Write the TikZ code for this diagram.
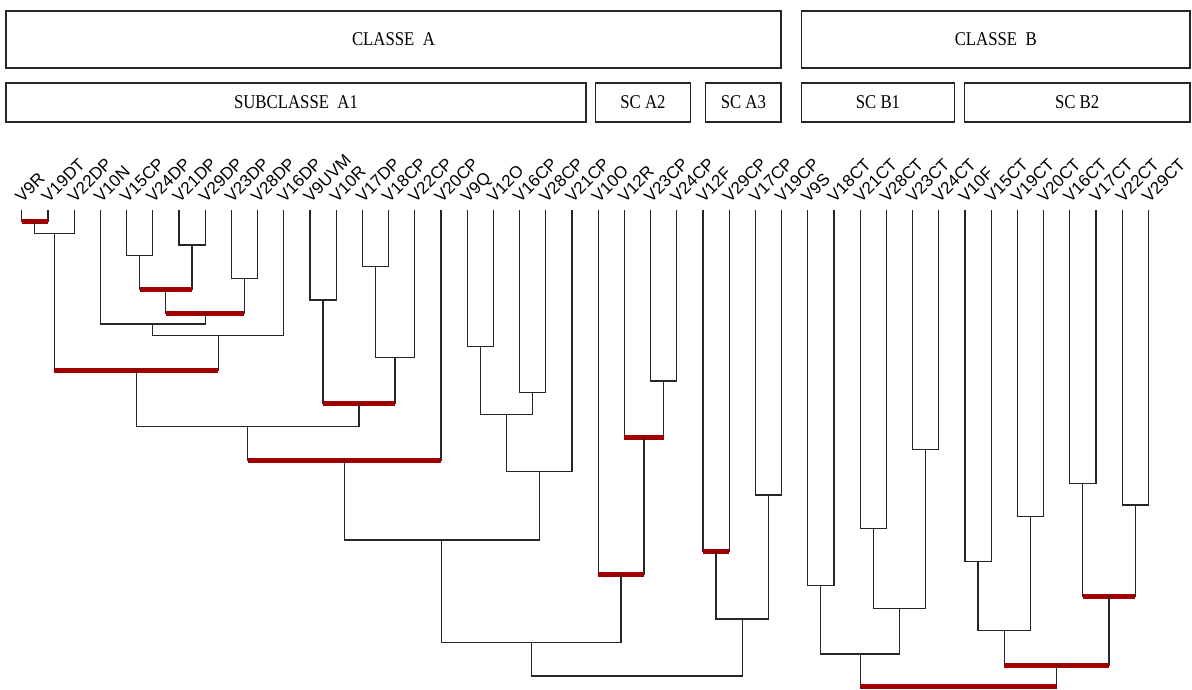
\documentclass[tikz,border=0pt]{standalone}
\usepackage{fontspec}
\usetikzlibrary{calc}
\newfontfamily\labfont{Liberation Sans}
\newfontfamily\boxfont[FakeStretch=0.86]{Liberation Serif}
\definecolor{barred}{RGB}{160,0,0}
\tikzset{
  stem/.style={draw=black!85, line width=1.2pt, line cap=rect},
  redbar/.style={draw=barred, line width=5pt, line cap=butt},
  blackbar/.style={draw=black!85, line width=1.2pt, line cap=rect},
  clbox/.style={draw=black!85, line width=1.3pt, inner sep=0pt, font=\boxfont\fontsize{19.5}{22}\selectfont},
  leaflab/.style={rotate=45, anchor=base west, inner sep=0pt, font=\labfont\fontsize{17}{20}\selectfont}
}
\newcommand\dgjoin[5]{%
  \coordinate (tmp) at ($(#2)!0.5!(#3)$);
  \coordinate (#1) at (tmp |- 0,#4);
  \draw[stem] (#2) -- (#2 |- #1);
  \draw[stem] (#3) -- (#3 |- #1);
  \draw[#5] (#2 |- #1) -- (#3 |- #1);
}
\begin{document}
\begin{tikzpicture}[x=1pt, y=-1pt]
\useasboundingbox (0,0) rectangle (1192,689);
% class boxes
\node[clbox, minimum width=775pt, minimum height=57pt] (classA) at (393.5,39.5) {CLASSE\ \ A};
\node[clbox, minimum width=388.5pt, minimum height=57pt] (classB) at (995.75,39.5) {CLASSE\ \ B};
\node[clbox, minimum width=580pt, minimum height=39pt] (subA1) at (296,102.5) {SUBCLASSE\ \ A1};
\node[clbox, minimum width=95pt, minimum height=39pt] (scA2) at (643,102.5) {SC A2};
\node[clbox, minimum width=75.3pt, minimum height=39pt] (scA3) at (743.35,102.5) {SC A3};
\node[clbox, minimum width=152.9pt, minimum height=39pt] (scB1) at (877.95,102.5) {SC B1};
\node[clbox, minimum width=225.7pt, minimum height=39pt] (scB2) at (1077.15,102.5) {SC B2};
% leaves
\foreach \lab [count=\i] in {V9R,V19DT,V22DP,V10N,V15CP,V24DP,V21DP,V29DP,V23DP,V28DP,V16DP,V9UVM,V10R,V17DP,V18CP,V22CP,V20CP,V9Q,V12O,V16CP,V28CP,V21CP,V10O,V12R,V23CP,V24CP,V12F,V29CP,V17CP,V19CP,V9S,V18CT,V21CT,V28CT,V23CT,V24CT,V10F,V15CT,V19CT,V20CT,V16CT,V17CT,V22CT,V29CT}{
  \coordinate (l\i) at ({21.7+(\i-1)*26.2},211);
  \node[leaflab] (t\i) at ({21.7+(\i-1)*26.2+0.6},203.2) {\lab};
}
% class A
\dgjoin{j12}{l1}{l2}{221}{redbar}
\dgjoin{j123}{j12}{l3}{233.3}{blackbar}
\dgjoin{j56}{l5}{l6}{255.3}{blackbar}
\dgjoin{j78}{l7}{l8}{245}{blackbar}
\dgjoin{j5678}{j56}{j78}{289.3}{redbar}
\dgjoin{j910}{l9}{l10}{278.7}{blackbar}
\dgjoin{j5to10}{j5678}{j910}{313.3}{redbar}
\dgjoin{j4to10}{l4}{j5to10}{324}{blackbar}
\dgjoin{j4to11}{j4to10}{l11}{335.7}{blackbar}
\dgjoin{j1to11}{j123}{j4to11}{370}{redbar}
\dgjoin{j1213}{l12}{l13}{300}{blackbar}
\dgjoin{j1415}{l14}{l15}{266.7}{blackbar}
\dgjoin{j14to16}{j1415}{l16}{357.3}{blackbar}
\dgjoin{j12to16}{j1213}{j14to16}{403.3}{redbar}
\dgjoin{j1to16}{j1to11}{j12to16}{426.7}{blackbar}
\dgjoin{j1to17}{j1to16}{l17}{460}{redbar}
\dgjoin{j1819}{l18}{l19}{346.7}{blackbar}
\dgjoin{j2021}{l20}{l21}{392.7}{blackbar}
\dgjoin{j18to21}{j1819}{j2021}{414.3}{blackbar}
\dgjoin{j18to22}{j18to21}{l22}{471.7}{blackbar}
\dgjoin{j1to22}{j1to17}{j18to22}{540}{blackbar}
\dgjoin{j2526}{l25}{l26}{381}{blackbar}
\dgjoin{j24to26}{l24}{j2526}{437.3}{redbar}
\dgjoin{j23to26}{l23}{j24to26}{574.3}{redbar}
\dgjoin{j1to26}{j1to22}{j23to26}{642.3}{blackbar}
\dgjoin{j2728}{l27}{l28}{551.7}{redbar}
\dgjoin{j2930}{l29}{l30}{495}{blackbar}
\dgjoin{j27to30}{j2728}{j2930}{619}{blackbar}
\dgjoin{rootA}{j1to26}{j27to30}{676}{blackbar}
% class B
\dgjoin{j3132}{l31}{l32}{585.7}{blackbar}
\dgjoin{j3334}{l33}{l34}{528.3}{blackbar}
\dgjoin{j3536}{l35}{l36}{449.3}{blackbar}
\dgjoin{j33to36}{j3334}{j3536}{608.3}{blackbar}
\dgjoin{j31to36}{j3132}{j33to36}{654}{blackbar}
\dgjoin{j3738}{l37}{l38}{561.7}{blackbar}
\dgjoin{j3940}{l39}{l40}{516.7}{blackbar}
\dgjoin{j37to40}{j3738}{j3940}{630.7}{blackbar}
\dgjoin{j4142}{l41}{l42}{483.3}{blackbar}
\dgjoin{j4344}{l43}{l44}{505}{blackbar}
\dgjoin{j41to44}{j4142}{j4344}{596.7}{redbar}
\dgjoin{j37to44}{j37to40}{j41to44}{665}{redbar}
\dgjoin{rootB}{j31to36}{j37to44}{686.7}{redbar}
\end{tikzpicture}
\end{document}
